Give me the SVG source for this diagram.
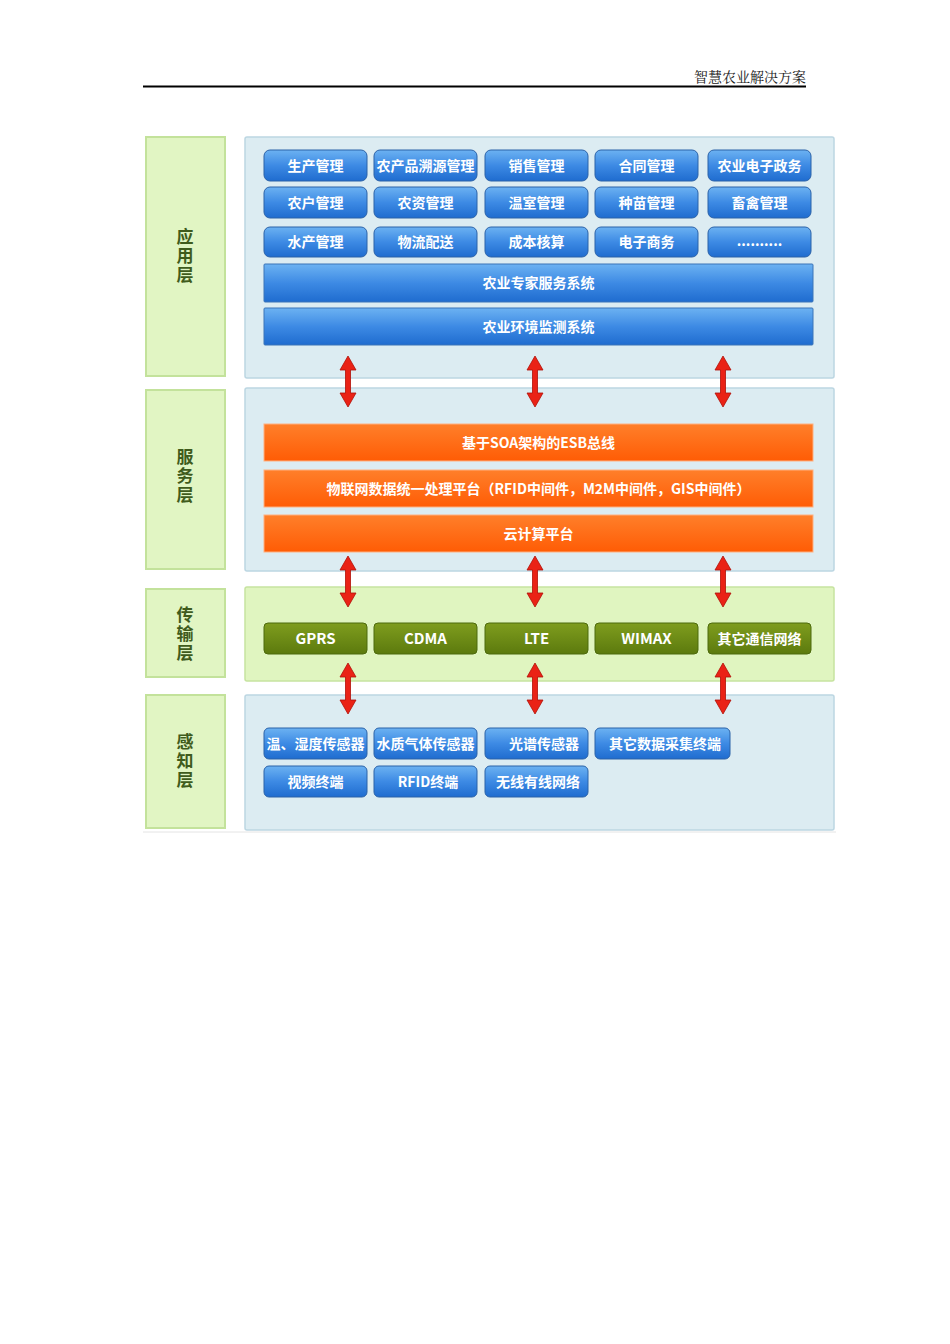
<svg xmlns="http://www.w3.org/2000/svg" width="950" height="1344" viewBox="0 0 950 1344">
<style>
.lbl{font-family:"Noto Sans CJK SC",sans-serif;font-size:17px;font-weight:bold;fill:#3f5b1c;text-anchor:middle;writing-mode:vertical-rl;letter-spacing:2px;}
.side{fill:#e1f5c3;stroke:#c3e29b;stroke-width:2;}
.pb{fill:#dcecf2;stroke:#bcd6e2;stroke-width:1.5;}
.pg{fill:#e0f5c0;stroke:#c6e3a0;stroke-width:1.5;}
.btn{fill:url(#gb);stroke:#2b62a8;stroke-width:1;}
.bar{fill:url(#gb);stroke:#3a74b8;stroke-width:1;}
.obar{fill:url(#go);stroke:#ffb080;stroke-width:1;}
.gbtn{fill:url(#gg);stroke:#4d6a0c;stroke-width:1;}
.t{font-family:"Noto Sans CJK SC",sans-serif;font-size:14px;font-weight:bold;fill:#ffffff;text-anchor:middle;}
.tg{font-family:"Noto Sans CJK SC",sans-serif;font-size:15px;font-weight:bold;fill:#ffffff;text-anchor:middle;}
.arr{fill:#ea2216;stroke:#b01008;stroke-width:0.8;}
</style>
<defs>
<linearGradient id="gb" x1="0" y1="0" x2="0" y2="1">
<stop offset="0" stop-color="#6cb2f2"/><stop offset="0.5" stop-color="#3d8ae4"/><stop offset="1" stop-color="#1f6ccf"/>
</linearGradient>
<linearGradient id="go" x1="0" y1="0" x2="0" y2="1">
<stop offset="0" stop-color="#ff7f2a"/><stop offset="1" stop-color="#ff5c05"/>
</linearGradient>
<linearGradient id="gg" x1="0" y1="0" x2="0" y2="1">
<stop offset="0" stop-color="#7f9d1e"/><stop offset="1" stop-color="#5c7a0e"/>
</linearGradient>
</defs>
<rect width="950" height="1344" fill="#ffffff"/>

<g id="header">
<text x="806" y="82" font-family="'Noto Serif CJK SC','Noto Sans CJK SC',serif" font-size="14" fill="#222" text-anchor="end">智慧农业解决方案</text>
<line x1="143" y1="86.5" x2="806" y2="86.5" stroke="#000" stroke-width="1.8"/>
</g>

<g id="layer-app">
<rect class="side" x="146" y="137" width="79" height="239"/>
<text class="lbl" x="185" y="257">应用层</text>
<rect class="pb" x="245" y="137" width="589" height="241" rx="2"/>
</g>
<g id="layer-service">
<rect class="side" x="146" y="390" width="79" height="179"/>
<text class="lbl" x="185" y="477">服务层</text>
<rect class="pb" x="245" y="388" width="589" height="183" rx="2"/>
</g>
<g id="layer-trans">
<rect class="side" x="146" y="589" width="79" height="88"/>
<text class="lbl" x="185" y="635">传输层</text>
<rect class="pg" x="245" y="587" width="589" height="94" rx="2"/>
</g>
<g id="layer-sense">
<rect class="side" x="146" y="695" width="79" height="133"/>
<text class="lbl" x="185" y="762">感知层</text>
<rect class="pb" x="245" y="695" width="589" height="135" rx="2"/>
<line x1="143" y1="832" x2="836" y2="832" stroke="#e4e4e4" stroke-width="1"/>
</g>

<g id="app-nodes">
<g id="a1"><rect class="btn" x="264" y="150" width="103" height="31" rx="6"/><text class="t" x="315.5" y="171">生产管理</text></g>
<g id="a2"><rect class="btn" x="374" y="150" width="103" height="31" rx="6"/><text class="t" x="425.5" y="171">农产品溯源管理</text></g>
<g id="a3"><rect class="btn" x="485" y="150" width="103" height="31" rx="6"/><text class="t" x="536.5" y="171">销售管理</text></g>
<g id="a4"><rect class="btn" x="595" y="150" width="103" height="31" rx="6"/><text class="t" x="646.5" y="171">合同管理</text></g>
<g id="a5"><rect class="btn" x="708" y="150" width="103" height="31" rx="6"/><text class="t" x="759.5" y="171">农业电子政务</text></g>
<g id="a6"><rect class="btn" x="264" y="187" width="103" height="31" rx="6"/><text class="t" x="315.5" y="208">农户管理</text></g>
<g id="a7"><rect class="btn" x="374" y="187" width="103" height="31" rx="6"/><text class="t" x="425.5" y="208">农资管理</text></g>
<g id="a8"><rect class="btn" x="485" y="187" width="103" height="31" rx="6"/><text class="t" x="536.5" y="208">温室管理</text></g>
<g id="a9"><rect class="btn" x="595" y="187" width="103" height="31" rx="6"/><text class="t" x="646.5" y="208">种苗管理</text></g>
<g id="a10"><rect class="btn" x="708" y="187" width="103" height="31" rx="6"/><text class="t" x="759.5" y="208">畜禽管理</text></g>
<g id="a11"><rect class="btn" x="264" y="227" width="103" height="30" rx="6"/><text class="t" x="315.5" y="247">水产管理</text></g>
<g id="a12"><rect class="btn" x="374" y="227" width="103" height="30" rx="6"/><text class="t" x="425.5" y="247">物流配送</text></g>
<g id="a13"><rect class="btn" x="485" y="227" width="103" height="30" rx="6"/><text class="t" x="536.5" y="247">成本核算</text></g>
<g id="a14"><rect class="btn" x="595" y="227" width="103" height="30" rx="6"/><text class="t" x="646.5" y="247">电子商务</text></g>
<g id="a15"><rect class="btn" x="708" y="227" width="103" height="30" rx="6"/><text class="t" x="759.5" y="246" font-size="10">..........</text></g>
<g id="a16"><rect class="bar" x="264" y="264" width="549" height="38" rx="1"/><text class="t" x="538.5" y="288">农业专家服务系统</text></g>
<g id="a17"><rect class="bar" x="264" y="308" width="549" height="37" rx="1"/><text class="t" x="538.5" y="332">农业环境监测系统</text></g>
</g>

<g id="service-nodes">
<g id="s1"><rect class="obar" x="264" y="424" width="549" height="37"/><text class="t" x="538.5" y="448">基于SOA架构的ESB总线</text></g>
<g id="s2"><rect class="obar" x="264" y="470" width="549" height="37"/><text class="t" x="538.5" y="494">物联网数据统一处理平台（RFID中间件，M2M中间件，GIS中间件）</text></g>
<g id="s3"><rect class="obar" x="264" y="515" width="549" height="37"/><text class="t" x="538.5" y="539">云计算平台</text></g>
</g>

<g id="trans-nodes">
<g id="t1"><rect class="gbtn" x="264" y="623" width="103" height="31" rx="4"/><text class="tg" x="315.5" y="644">GPRS</text></g>
<g id="t2"><rect class="gbtn" x="374" y="623" width="103" height="31" rx="4"/><text class="tg" x="425.5" y="644">CDMA</text></g>
<g id="t3"><rect class="gbtn" x="485" y="623" width="103" height="31" rx="4"/><text class="tg" x="536.5" y="644">LTE</text></g>
<g id="t4"><rect class="gbtn" x="595" y="623" width="103" height="31" rx="4"/><text class="tg" x="646.5" y="644">WIMAX</text></g>
<g id="t5"><rect class="gbtn" x="708" y="623" width="103" height="31" rx="4"/><text class="t" x="759.5" y="644">其它通信网络</text></g>
</g>

<g id="sense-nodes">
<g id="p1"><rect class="btn" x="264" y="728" width="103" height="31" rx="5"/><text class="t" x="315.5" y="749">温、湿度传感器</text></g>
<g id="p2"><rect class="btn" x="374" y="728" width="103" height="31" rx="5"/><text class="t" x="425.5" y="749">水质气体传感器</text></g>
<g id="p3"><rect class="btn" x="485" y="728" width="103" height="31" rx="5"/><text class="t" x="544" y="749">光谱传感器</text></g>
<g id="p4"><rect class="btn" x="595" y="728" width="135" height="31" rx="5"/><text class="t" x="665" y="749">其它数据采集终端</text></g>
<g id="p5"><rect class="btn" x="264" y="766" width="103" height="31" rx="5"/><text class="t" x="315.5" y="787">视频终端</text></g>
<g id="p6"><rect class="btn" x="374" y="766" width="103" height="31" rx="5"/><text class="t" x="428" y="787">RFID终端</text></g>
<g id="p7"><rect class="btn" x="485" y="766" width="103" height="31" rx="5"/><text class="t" x="538" y="787">无线有线网络</text></g>
</g>

<g id="connectors">
<path class="arr" d="M348 356 L356 370 L350.5 370 L350.5 393 L356 393 L348 407 L340 393 L345.5 393 L345.5 370 L340 370 Z"/>
<path class="arr" d="M535 356 L543 370 L537.5 370 L537.5 393 L543 393 L535 407 L527 393 L532.5 393 L532.5 370 L527 370 Z"/>
<path class="arr" d="M723 356 L731 370 L725.5 370 L725.5 393 L731 393 L723 407 L715 393 L720.5 393 L720.5 370 L715 370 Z"/>
<path class="arr" d="M348 556 L356 570 L350.5 570 L350.5 593 L356 593 L348 607 L340 593 L345.5 593 L345.5 570 L340 570 Z"/>
<path class="arr" d="M535 556 L543 570 L537.5 570 L537.5 593 L543 593 L535 607 L527 593 L532.5 593 L532.5 570 L527 570 Z"/>
<path class="arr" d="M723 556 L731 570 L725.5 570 L725.5 593 L731 593 L723 607 L715 593 L720.5 593 L720.5 570 L715 570 Z"/>
<path class="arr" d="M348 663 L356 677 L350.5 677 L350.5 700 L356 700 L348 714 L340 700 L345.5 700 L345.5 677 L340 677 Z"/>
<path class="arr" d="M535 663 L543 677 L537.5 677 L537.5 700 L543 700 L535 714 L527 700 L532.5 700 L532.5 677 L527 677 Z"/>
<path class="arr" d="M723 663 L731 677 L725.5 677 L725.5 700 L731 700 L723 714 L715 700 L720.5 700 L720.5 677 L715 677 Z"/>
</g>
</svg>
